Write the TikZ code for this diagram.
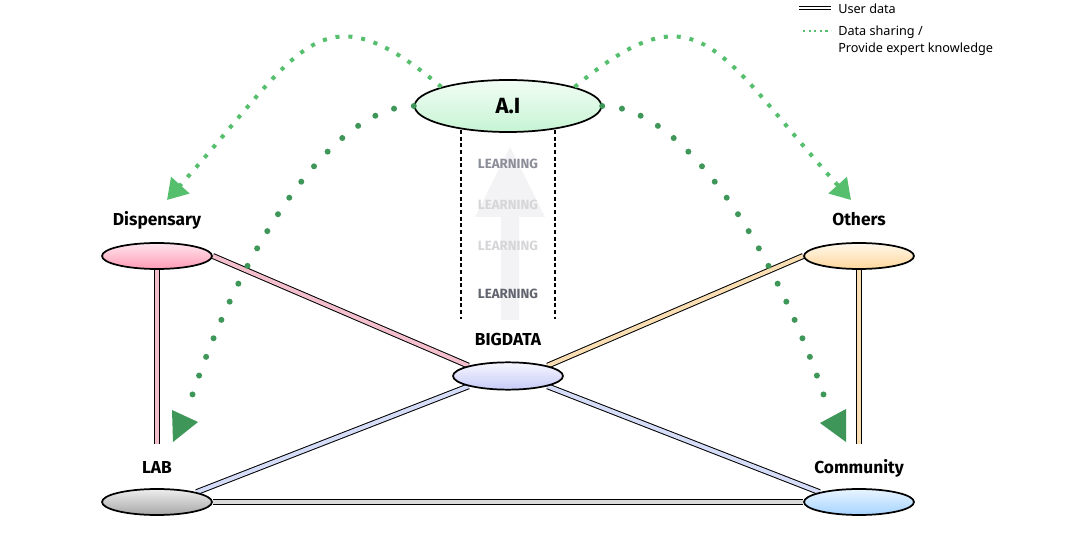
\documentclass[tikz,border=0pt]{standalone}
\usepackage{fontspec}
\setmainfont{Fira Sans}
\newfontfamily\keyfont{Noto Sans}
\usepackage{tikz}
\usetikzlibrary{arrows.meta,positioning,calc,backgrounds,shapes.geometric}
\definecolor{aitop}{HTML}{F2FDF5}
\definecolor{aibot}{HTML}{C6F4D3}
\definecolor{disptop}{HTML}{FFE6EE}
\definecolor{dispbot}{HTML}{FF9BB6}
\definecolor{labtop}{HTML}{EEEEEE}
\definecolor{labbot}{HTML}{A7A7A7}
\definecolor{bigtop}{HTML}{F7F7FF}
\definecolor{bigbot}{HTML}{C6CAF6}
\definecolor{othtop}{HTML}{FFF8EC}
\definecolor{othbot}{HTML}{FFD79C}
\definecolor{comtop}{HTML}{E8F5FF}
\definecolor{combot}{HTML}{A6D3FF}
\definecolor{displink}{HTML}{F3BFCD}
\definecolor{othlink}{HTML}{F8DEB2}
\definecolor{biglink}{HTML}{D4DCF8}
\definecolor{lablink}{HTML}{D9D9D9}
\definecolor{sharegreen}{HTML}{55BF6E}
\definecolor{expertgreen}{HTML}{3E9759}
\definecolor{arrowgray}{HTML}{F3F3F5}
\definecolor{learnmid}{HTML}{8C8F99}
\definecolor{learnpale}{HTML}{D6D6D9}
\definecolor{learndark}{HTML}{62656F}
\tikzset{
  hub/.style={ellipse, draw=black, line width=1.3pt, minimum width=82.5pt, minimum height=19.5pt, inner sep=0pt},
  tag/.style={font=\bfseries\fontsize{13}{15}\selectfont, inner sep=0pt, text depth=0pt},
  learn/.style={font=\bfseries\fontsize{10}{12}\selectfont, inner sep=0pt},
  keytxt/.style={font=\keyfont\fontsize{9.5}{12}\selectfont, inner sep=0pt},
  userlink/.style={draw=black, line width=0.75pt, double distance=3pt},
  sharelink/.style={draw=sharegreen, line width=3pt, dash pattern=on 3pt off 6.7pt},
  expertlink/.style={draw=expertgreen, line width=4.5pt, line cap=round, dash pattern=on 0pt off 15pt},
  guide/.style={draw=black, line width=1.5pt, dash pattern=on 3pt off 2pt},
}

\begin{document}
\begin{tikzpicture}[x=0.75pt, y=-0.75pt]
\useasboundingbox (0,0) rectangle (1072,545);

% hubs
\node[hub, minimum width=140pt, minimum height=39pt, top color=aitop, bottom color=aibot,
  font=\bfseries\fontsize{16.5}{18}\selectfont] (ai) at (508,106) {A.I};
\node[hub, top color=disptop, bottom color=dispbot] (disp) at (157,256) {};
\node[hub, top color=labtop, bottom color=labbot] (lab) at (157,502) {};
\node[hub, minimum height=20.5pt, top color=bigtop, bottom color=bigbot] (big) at (508,376) {};
\node[hub, top color=othtop, bottom color=othbot] (oth) at (859,256) {};
\node[hub, top color=comtop, bottom color=combot] (com) at (859,502) {};

\node[tag, above=12pt of disp] (disptag) {Dispensary};
\node[tag, above=11pt of lab] (labtag) {LAB};
\node[tag, above=11.5pt of big] (bigtag) {BIGDATA};
\node[tag, above=12pt of oth] (othtag) {Others};
\node[tag, above=11pt of com] (comtag) {Community};

% user data links
\begin{scope}[on background layer]
\fill[white] (0,0) rectangle (1072,545);
\draw[userlink, double=displink, shorten >=33pt] (disp) -- (lab);
\draw[userlink, double=othlink, shorten >=33pt] (oth) -- (com);
\draw[userlink, double=displink] (disp.east) -- (big.north west);
\draw[userlink, double=othlink] (oth.west) -- (big.north east);
\draw[userlink, double=biglink] (big.south west) -- (lab.north east);
\draw[userlink, double=biglink] (big.south east) -- (com.north west);
\draw[userlink, double=lablink] (lab.east) -- (com.west);
\end{scope}

% learning column
\fill[arrowgray] (501,320) -- (501,217) -- (475,217) -- (510,147) -- (545,217) -- (519,217) -- (519,320) -- cycle;
\draw[guide] ($(ai.south)+(-47,-3)$) -- ++(0,189);
\draw[guide] ($(ai.south)+(47,-3)$) -- ++(0,189);
\foreach \yy/\cc [count=\i] in {164/learnmid,205/learnpale,246/learnpale,294/learndark}
  \node[learn, text=\cc] (learn\i) at (508,\yy) {LEARNING};

% sharing / expert knowledge
\coordinate (disptip) at (167,200);
\coordinate (othtip) at (851,200);
\coordinate (labtip) at (190,402);
\coordinate (comtip) at (826,402);
\draw[sharelink, -{Triangle[length=15pt,width=18pt]}] (ai.north west) .. controls (318,-17) and (301,51) .. (disptip);
\draw[sharelink, -{Triangle[length=15pt,width=18pt]}] (ai.north east) .. controls (700,-17) and (717,51) .. (othtip);
\draw[expertlink] (ai.west) .. controls (330,106) and (238,255) .. (labtip);
\draw[expertlink] (ai.east) .. controls (686,106) and (778,255) .. (comtip);
\fill[expertgreen] (labtip) ++(-18,8) -- ++(26,12) -- ++(-25,20) -- cycle;
\fill[expertgreen] (comtip) ++(20,7) -- ++(-26,14) -- ++(26,19) -- cycle;

% key
\node[keytxt, anchor=base west] (userkey) at (838,14) {User data};
\node[keytxt, anchor=base west] (sharekey) at (838,36) {Data sharing /};
\node[keytxt, anchor=base west] (expertkey) at (838,53) {Provide expert knowledge};
\draw[userlink, double=white, double distance=2.2pt, line width=0.6pt] ($(userkey.base west)+(-39,-6)$) -- ++(32,0);
\draw[sharegreen, line width=1.6pt, dash pattern=on 1.6pt off 2.6pt] ($(sharekey.base west)+(-35,-5)$) -- ++(28,0);
\end{tikzpicture}
\end{document}
